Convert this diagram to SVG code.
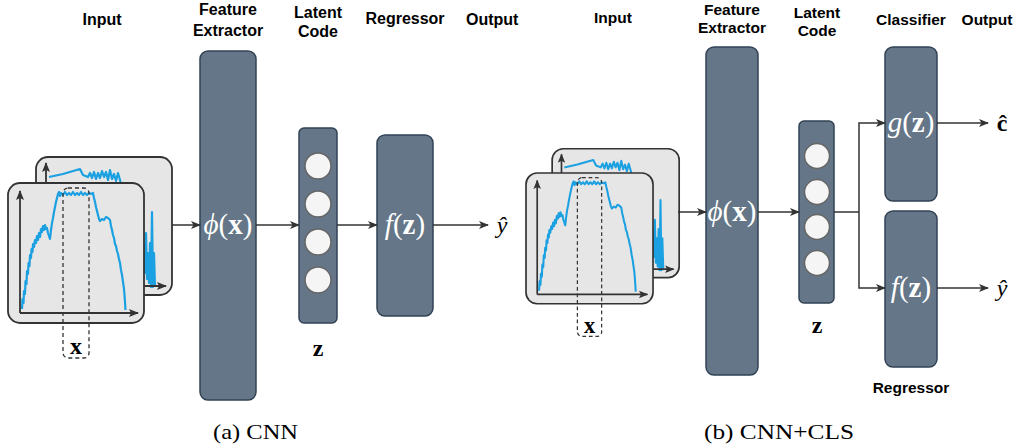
<svg xmlns="http://www.w3.org/2000/svg" xmlns:xlink="http://www.w3.org/1999/xlink" width="1018" height="448" viewBox="0 0 1018 448">
<style>
.hdr{font-family:"Liberation Sans",Arial,sans-serif;font-weight:bold;font-size:16px;fill:#000;text-anchor:middle}
.hdr2{font-family:"Liberation Sans",Arial,sans-serif;font-weight:bold;font-size:15.5px;fill:#000;text-anchor:middle}
.blk{fill:#647687;stroke:#314354;stroke-width:1.5}
.cir{fill:#f5f5f5;stroke:#666;stroke-width:1.5}
.math{font-family:"Liberation Serif","DejaVu Serif",serif;font-size:29px;fill:#fff;text-anchor:middle}
.mo{font-family:"Liberation Serif","DejaVu Serif",serif;font-size:24px;fill:#000;text-anchor:middle}
.cap{font-family:"Liberation Serif","DejaVu Serif",serif;font-size:22px;fill:#000}
.con{fill:none;stroke:#333;stroke-width:1.5}
.img{fill:#e6e6e6;stroke:#333;stroke-width:1.8}
.ax{fill:none;stroke:#333;stroke-width:1.8}
.sig{fill:none;stroke:#1ba1e2;stroke-width:2.2;stroke-linejoin:round}
.dash{fill:none;stroke:#333;stroke-width:1.3;stroke-dasharray:4 3}
</style>
<defs>
<marker id="arr" viewBox="0 0 10 10" refX="9" refY="5" markerWidth="10" markerHeight="10" markerUnits="userSpaceOnUse" orient="auto">
<path d="M0,1 L10,5 L0,9 L2.5,5 Z" fill="#333"/>
</marker>
<marker id="axh" viewBox="0 0 10 10" refX="9" refY="5" markerWidth="10" markerHeight="10" markerUnits="userSpaceOnUse" orient="auto">
<path d="M0,1 L10,5 L0,9 L2,5 Z" fill="#333"/>
</marker>
<g id="stack">
<rect class="img" x="28" y="-26" width="136" height="138" rx="12"/>
<polyline class="sig" points="41,-6 55,-9 72,-14 75,-8 80,-6 82,-10 84,-5 86,-11 88,-4 90,-10 92,-5 94,-12 96,-6 98,-11 100,-3 102,-13 104,-4 106,-9 108,-2 110,-10 112,-3 114,5 118,15 122,25 126,40 130,55 134,70 136,62 137,90 138,50 139,96 140,70 141,100 142,60 143,104 144,29 145,104 146,70 147,104"/>
<line class="ax" x1="38" y1="103" x2="38" y2="-20" marker-end="url(#axh)"/>
<line class="ax" x1="38" y1="103" x2="158" y2="103" marker-end="url(#axh)"/>
<rect class="img" x="0" y="0" width="136" height="140" rx="12"/>
<polyline class="sig" points="14,126 14.5,116 15.5,120 16,108 17,111 17.5,98 18.5,101 19,88 20,91 20.5,80 21.5,83 22,72 23,75 23.5,66 24.5,69 25,61 26,64 27,57 28,60 29,53 30,57 31,50 32,54 33,46 34,49 35,43 36,47 37,42 38,46 39,45 40,50 41,53 42,56 43,47 44,40 45,35 46,29 47,24 48,19 49,15 50,11 51,9 52,13 53,10 55,12 57,9 59,12 61,10 63,12 65,9 67,12 69,10 71,12 73,9 75,12 77,10 79,12 81,10 83,11 85,10 86,15 87,19 88,24 89,28 90,32 91,36 92,38 94,36 96,37 98,34 100,35 102,37 103,43 104,47 105,52 106,55 107,61 108,63 109,68 110,71 111,76 112,80 113,87 114,92 115,99 116,106 116.5,112 117,119 117.5,127"/>
<line class="ax" x1="12" y1="130" x2="12" y2="8" marker-end="url(#axh)"/>
<line class="ax" x1="12" y1="130" x2="130" y2="130" marker-end="url(#axh)"/>
<rect class="dash" x="55" y="5" width="26" height="170" rx="5"/>
<text x="68" y="171" font-family="Liberation Serif, DejaVu Serif, serif" font-size="24" font-weight="bold" text-anchor="middle" fill="#000">x</text>
</g>
</defs>

<g id="headers-a">
<text class="hdr" x="102" y="25">Input</text>
<text class="hdr" x="228" y="15">Feature</text>
<text class="hdr" x="228" y="36">Extractor</text>
<text class="hdr" x="318" y="18">Latent</text>
<text class="hdr" x="318" y="37">Code</text>
<text class="hdr" x="405" y="24">Regressor</text>
<text class="hdr" x="466" y="25" style="text-anchor:start">Output</text>
</g>
<g id="headers-b">
<text class="hdr2" x="613" y="23">Input</text>
<text class="hdr2" x="732" y="15">Feature</text>
<text class="hdr2" x="732" y="33">Extractor</text>
<text class="hdr2" x="817" y="18">Latent</text>
<text class="hdr2" x="817" y="36">Code</text>
<text class="hdr2" x="911" y="25">Classifier</text>
<text class="hdr2" x="987" y="25">Output</text>
<text class="hdr2" x="911" y="393">Regressor</text>
</g>

<g id="input-a"><use xlink:href="#stack" transform="translate(8,183)"/></g>
<g id="input-b"><use xlink:href="#stack" transform="translate(526,173) scale(0.934)"/></g>

<g id="feat-a">
<rect class="blk" x="200" y="51" width="56" height="349" rx="8"/>
<text class="math" x="228" y="234"><tspan font-style="italic">ϕ</tspan>(<tspan font-weight="bold">x</tspan>)</text>
</g>
<g id="latent-a">
<rect class="blk" x="299" y="128" width="38" height="195" rx="5"/>
<circle class="cir" cx="318" cy="166" r="13"/>
<circle class="cir" cx="318" cy="204" r="13"/>
<circle class="cir" cx="318" cy="242" r="13"/>
<circle class="cir" cx="318" cy="280" r="13"/>
<text class="mo" x="318" y="356" font-weight="bold" font-size="26">z</text>
</g>
<g id="reg-a">
<rect class="blk" x="377" y="135" width="56" height="181" rx="8"/>
<text class="math" x="405" y="234"><tspan font-style="italic">f</tspan>(<tspan font-weight="bold">z</tspan>)</text>
</g>
<g id="out-a"><text class="mo" x="502" y="233" font-style="italic">ŷ</text></g>

<g id="feat-b">
<rect class="blk" x="706" y="47" width="52" height="328" rx="8"/>
<text class="math" x="732" y="221" font-size="27"><tspan font-style="italic">ϕ</tspan>(<tspan font-weight="bold">x</tspan>)</text>
</g>
<g id="latent-b">
<rect class="blk" x="799" y="121" width="35" height="182" rx="5"/>
<circle class="cir" cx="817" cy="156" r="12.5"/>
<circle class="cir" cx="817" cy="192" r="12.5"/>
<circle class="cir" cx="817" cy="227" r="12.5"/>
<circle class="cir" cx="817" cy="263" r="12.5"/>
<text class="mo" x="817" y="333" font-weight="bold" font-size="25">z</text>
</g>
<g id="cls-b">
<rect class="blk" x="885" y="47" width="52" height="154" rx="8"/>
<text class="math" x="911" y="132" font-size="27"><tspan font-style="italic">g</tspan>(<tspan font-weight="bold">z</tspan>)</text>
</g>
<g id="reg-b">
<rect class="blk" x="885" y="211" width="52" height="156" rx="8"/>
<text class="math" x="911" y="297" font-size="27"><tspan font-style="italic">f</tspan>(<tspan font-weight="bold">z</tspan>)</text>
</g>
<g id="out-b">
<text class="mo" x="1002" y="131" font-weight="bold">ĉ</text>
<text class="mo" x="1002" y="296" font-style="italic">ŷ</text>
</g>

<g id="connectors">
<line class="con" x1="172" y1="225" x2="200" y2="225" marker-end="url(#arr)"/>
<line class="con" x1="256" y1="225" x2="299" y2="225" marker-end="url(#arr)"/>
<line class="con" x1="337" y1="225" x2="377" y2="225" marker-end="url(#arr)"/>
<line class="con" x1="433" y1="225" x2="488" y2="225" marker-end="url(#arr)"/>
<line class="con" x1="678" y1="212" x2="706" y2="212" marker-end="url(#arr)"/>
<line class="con" x1="758" y1="212" x2="799" y2="212" marker-end="url(#arr)"/>
<path class="con" d="M834,212 H859 M859,212 V123 H885" marker-end="url(#arr)"/>
<path class="con" d="M859,212 V288 H885" marker-end="url(#arr)"/>
<line class="con" x1="937" y1="123" x2="988" y2="123" marker-end="url(#arr)"/>
<line class="con" x1="937" y1="288" x2="988" y2="288" marker-end="url(#arr)"/>
</g>

<g id="captions">
<text class="cap" x="213" y="439" textLength="85" lengthAdjust="spacingAndGlyphs">(a) CNN</text>
<text class="cap" x="704" y="439" textLength="150" lengthAdjust="spacingAndGlyphs">(b) CNN+CLS</text>
</g>
</svg>
